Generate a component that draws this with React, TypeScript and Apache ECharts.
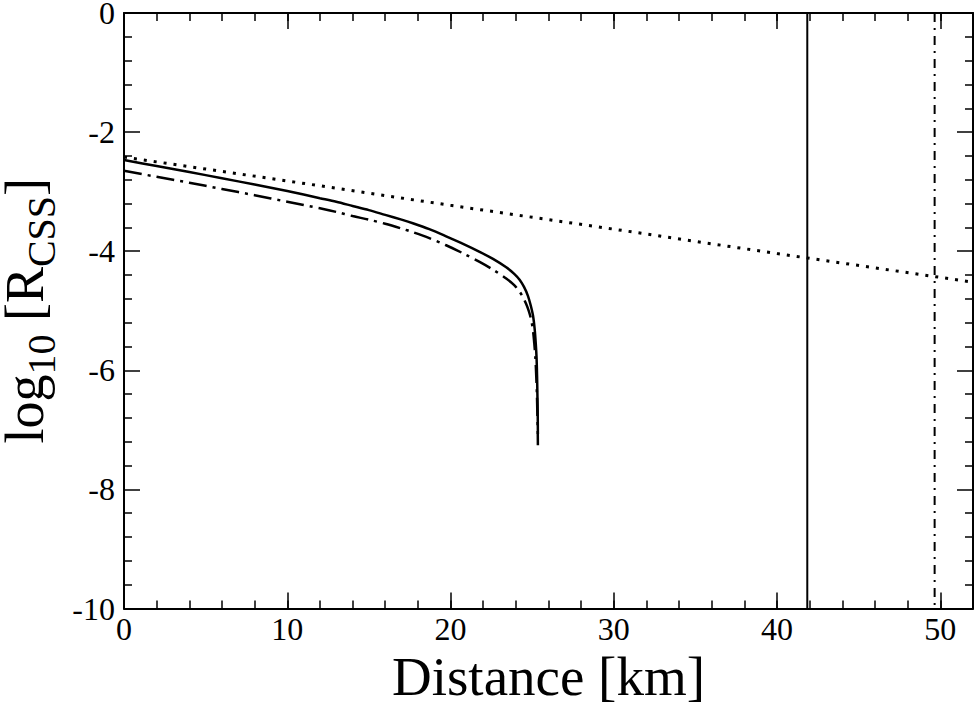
import React, { useEffect, useRef } from "react";
import * as echarts from "echarts";

// ---- Data ----
const xTickValues = [0, 10, 20, 30, 40, 50];
const yTickValues = [0, -2, -4, -6, -8, -10];

// solid curve
const solidCurve: [number, number][] = [
  [0, -2.47], [2, -2.57], [4, -2.67], [6, -2.775], [8, -2.88], [10, -2.99],
  [12, -3.11], [13, -3.17], [14, -3.24], [15, -3.31], [16, -3.39], [17, -3.47],
  [17.69, -3.53], [18.7, -3.63], [19.73, -3.75], [20.8, -3.88], [21.78, -4.01],
  [22.6, -4.13], [23.41, -4.27], [23.9, -4.38], [24.23, -4.48], [24.5, -4.6],
  [24.74, -4.75], [24.9, -4.9], [25.05, -5.08], [25.15, -5.3], [25.22, -5.55],
  [25.27, -5.8], [25.3, -6.1], [25.32, -6.4], [25.34, -6.75], [25.35, -7.07],
];

// dash-dot curve
const dashDotCurve: [number, number][] = [
  [0, -2.65], [2, -2.75], [4, -2.85], [6, -2.955], [8, -3.06], [10, -3.17],
  [12, -3.28], [13, -3.34], [14, -3.41], [15, -3.47], [16, -3.54], [17, -3.62],
  [17.69, -3.68], [18.7, -3.78], [19.73, -3.9], [20.8, -4.04], [21.78, -4.18],
  [22.6, -4.31], [23.41, -4.46], [23.9, -4.57], [24.23, -4.68], [24.45, -4.78],
  [24.64, -4.89], [24.8, -5.01], [24.94, -5.15], [25.05, -5.33], [25.13, -5.55],
  [25.2, -5.8], [25.25, -6.1], [25.29, -6.4], [25.32, -6.75], [25.34, -7.0],
  [25.35, -7.26],
];

// dotted (nearly straight) line
const dottedLine: [number, number][] = [
  [0, -2.42], [10, -2.82], [20, -3.23], [30, -3.63], [40, -4.04], [52, -4.52],
];

// vertical markers
const solidVertical: [number, number][] = [[41.85, 0], [41.85, -10]];
const dashDotVertical: [number, number][] = [[49.65, 0], [49.65, -10]];

const FONT = "'Liberation Serif', 'Times New Roman', serif";

export default function App() {
  const ref = useRef<HTMLDivElement>(null);
  useEffect(() => {
    if (!ref.current) return;
    const chart = echarts.init(ref.current, undefined, { renderer: "svg" });
    const black = "#000";
    const xCommon = { type: "value" as const, min: 0, max: 52, splitLine: { show: false } };
    const yCommon = { type: "value" as const, min: -10, max: 0, interval: 2, splitLine: { show: false } };
    const line = (show: boolean) => ({ show, onZero: false, lineStyle: { color: black, width: 2 } });
    const tick = (len: number) => ({ show: true, inside: true, length: len, lineStyle: { color: black, width: 1.5 } });
    chart.setOption({
      animation: false,
      backgroundColor: "#fff",
      grid: {
        left: 124,
        right: 4,
        top: 13,
        bottom: 101.5,
        containLabel: false,
        outerBoundsMode: "none",
      },
      xAxis: [
        {
          ...xCommon,
          position: "bottom",
          interval: 10,
          axisLine: line(true),
          axisTick: tick(16),
          axisLabel: {
            show: true,
            margin: 4,
            color: black,
            fontFamily: FONT,
            fontSize: 32,
            formatter: (v: number) => (xTickValues.includes(v) ? String(v) : ""),
          },
          name: "Distance [km]",
          nameLocation: "middle",
          nameGap: 40,
          nameTextStyle: { color: black, fontFamily: FONT, fontSize: 55 },
        },
        {
          ...xCommon,
          position: "bottom",
          interval: 2,
          axisLine: line(false),
          axisTick: tick(8),
          axisLabel: { show: false },
        },
        {
          ...xCommon,
          position: "top",
          interval: 10,
          axisLine: line(true),
          axisTick: tick(16),
          axisLabel: { show: false },
        },
        {
          ...xCommon,
          position: "top",
          interval: 2,
          axisLine: line(false),
          axisTick: tick(8),
          axisLabel: { show: false },
        },
      ],
      yAxis: [
        {
          ...yCommon,
          position: "left",
          axisLine: line(true),
          axisTick: tick(16),
          minorTick: { show: true, splitNumber: 5, length: 8, lineStyle: { color: black, width: 1.5 } },
          axisLabel: {
            show: true,
            margin: 9,
            color: black,
            fontFamily: FONT,
            fontSize: 32,
            formatter: (v: number) => (yTickValues.includes(v) ? String(v) : ""),
          },
          name: "{m|log}{s|10}{m| [R}{s|CSS}{m|]}",
          nameLocation: "middle",
          nameRotate: 90,
          nameGap: 70,
          nameTextStyle: {
            color: black,
            fontFamily: FONT,
            rich: {
              m: { fontFamily: FONT, fontSize: 54, lineHeight: 52, color: black },
              s: { fontFamily: FONT, fontSize: 40, lineHeight: 40, padding: [32, 0, 0, 0], color: black },
            },
          },
        },
        {
          ...yCommon,
          position: "right",
          axisLine: line(true),
          axisTick: tick(16),
          minorTick: { show: true, splitNumber: 5, length: 8, lineStyle: { color: black, width: 1.5 } },
          axisLabel: { show: false },
        },
      ],
      series: [
        {
          type: "line",
          data: dottedLine,
          xAxisIndex: 0,
          yAxisIndex: 0,
          showSymbol: false,
          symbol: "none",
          lineStyle: { color: black, width: 3, type: [3, 7] },
        },
        {
          type: "line",
          data: solidCurve,
          xAxisIndex: 0,
          yAxisIndex: 0,
          showSymbol: false,
          symbol: "none",
          smooth: 0.3,
          lineStyle: { color: black, width: 2.5, type: "solid" },
        },
        {
          type: "line",
          data: dashDotCurve,
          xAxisIndex: 0,
          yAxisIndex: 0,
          showSymbol: false,
          symbol: "none",
          smooth: 0.3,
          lineStyle: { color: black, width: 2.5, type: [18, 6, 3, 6] },
        },
        {
          type: "line",
          data: solidVertical,
          xAxisIndex: 0,
          yAxisIndex: 0,
          showSymbol: false,
          symbol: "none",
          lineStyle: { color: black, width: 2, type: "solid" },
        },
        {
          type: "line",
          data: dashDotVertical,
          xAxisIndex: 0,
          yAxisIndex: 0,
          showSymbol: false,
          symbol: "none",
          lineStyle: { color: black, width: 2, type: [9, 6, 2, 6] },
        },
      ],
    });
    return () => chart.dispose();
  }, []);
  return (
    <div
      ref={ref}
      style={{ position: "fixed", left: 0, top: 0, width: 977, height: 710, background: "#fff" }}
    />
  );
}
